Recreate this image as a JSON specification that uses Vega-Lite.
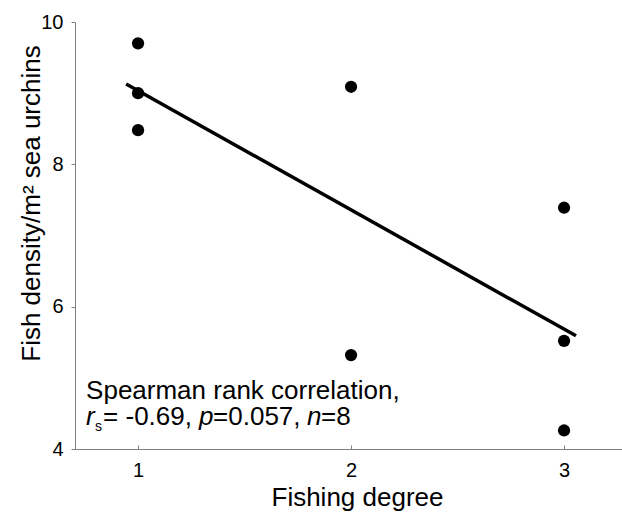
{
  "$schema": "https://vega.github.io/schema/vega-lite/v6.json",
  "width": 547,
  "height": 427,
  "autosize": "none",
  "padding": {"left": 75, "top": 22, "right": 0, "bottom": 68},
  "background": "white",
  "config": {
    "view": {"stroke": null},
    "font": "Liberation Sans",
    "axis": {
      "grid": false,
      "domainColor": "#808080",
      "tickColor": "#808080",
      "labelColor": "black",
      "titleColor": "black",
      "labelFont": "Liberation Sans",
      "titleFont": "Liberation Sans",
      "titleFontWeight": "normal",
      "labelFontSize": 20,
      "titleFontSize": 26
    }
  },
  "datasets": {
    "points": [
      {"fishing": 1, "density": 9.70},
      {"fishing": 1, "density": 9.00},
      {"fishing": 1, "density": 8.48},
      {"fishing": 2, "density": 9.09},
      {"fishing": 2, "density": 5.32},
      {"fishing": 3, "density": 7.39},
      {"fishing": 3, "density": 5.52},
      {"fishing": 3, "density": 4.26}
    ],
    "fit": [
      {"fishing": 0.944, "density": 9.13},
      {"fishing": 3.056, "density": 5.59}
    ],
    "note1": [{"fishing": 0.756, "density": 4.70}],
    "note2": [{"fishing": 0.756, "density": 4.34}]
  },
  "layer": [
    {
      "data": {"name": "points"},
      "mark": {"type": "point", "filled": true, "color": "black", "opacity": 1, "size": 150},
      "encoding": {
        "x": {
          "field": "fishing", "type": "quantitative",
          "scale": {"domain": [0.704, 3.272], "nice": false, "zero": false},
          "axis": {"title": "Fishing degree", "values": [1, 2, 3], "format": "d", "tickSize": -4, "labelPadding": 15, "titlePadding": 4, "titleX": 282}
        },
        "y": {
          "field": "density", "type": "quantitative",
          "scale": {"domain": [4, 10], "nice": false, "zero": false},
          "axis": {"title": "Fish density/m² sea urchins", "values": [4, 6, 8, 10], "format": "d", "tickSize": 4, "labelPadding": 8, "titleX": -44, "titleY": 181, "titleBaseline": "middle", "titleAlign": "center"}
        }
      }
    },
    {
      "data": {"name": "fit"},
      "mark": {"type": "line", "color": "black", "strokeWidth": 3.5},
      "encoding": {
        "x": {"field": "fishing", "type": "quantitative"},
        "y": {"field": "density", "type": "quantitative"}
      }
    },
    {
      "data": {"name": "note1"},
      "mark": {"type": "text", "text": "Spearman rank correlation,", "align": "left", "baseline": "alphabetic", "fontSize": 26, "color": "black"},
      "encoding": {
        "x": {"field": "fishing", "type": "quantitative"},
        "y": {"field": "density", "type": "quantitative"}
      }
    },
    {
      "data": {"name": "note2"},
      "encoding": {
        "x": {"field": "fishing", "type": "quantitative"},
        "y": {"field": "density", "type": "quantitative"}
      },
      "layer": [
        {"mark": {"type": "text", "text": "r", "fontStyle": "italic", "align": "left", "baseline": "alphabetic", "fontSize": 26, "color": "black", "dx": 0}},
        {"mark": {"type": "text", "text": "s", "align": "left", "baseline": "alphabetic", "fontSize": 14, "color": "black", "dx": 9, "dy": 6}},
        {"mark": {"type": "text", "text": "= -0.69,", "align": "left", "baseline": "alphabetic", "fontSize": 26, "color": "black", "dx": 17}},
        {"mark": {"type": "text", "text": "p", "fontStyle": "italic", "align": "left", "baseline": "alphabetic", "fontSize": 26, "color": "black", "dx": 113}},
        {"mark": {"type": "text", "text": "=0.057,", "align": "left", "baseline": "alphabetic", "fontSize": 26, "color": "black", "dx": 127}},
        {"mark": {"type": "text", "text": "n", "fontStyle": "italic", "align": "left", "baseline": "alphabetic", "fontSize": 26, "color": "black", "dx": 221}},
        {"mark": {"type": "text", "text": "=8", "align": "left", "baseline": "alphabetic", "fontSize": 26, "color": "black", "dx": 235}}
      ]
    }
  ]
}
